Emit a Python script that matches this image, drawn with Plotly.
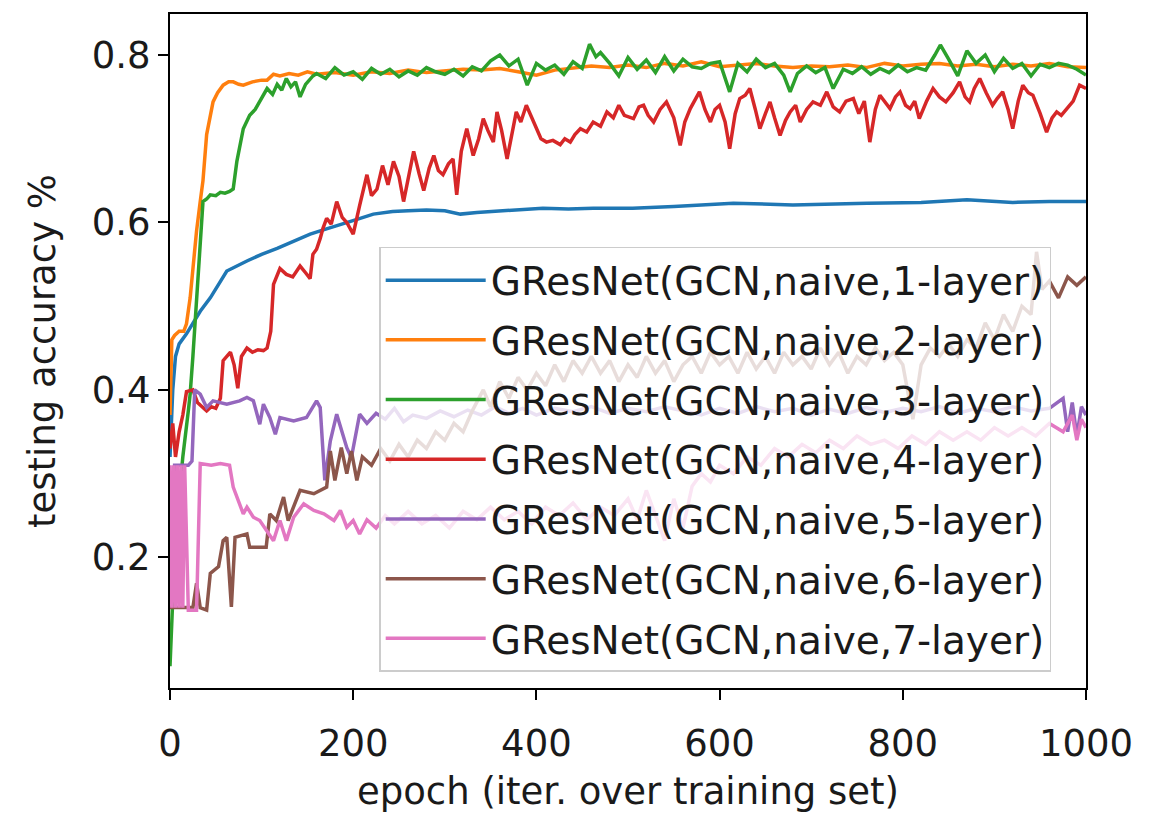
import plotly.graph_objects as go

# ---------------- data ----------------
SERIES_NAMES = [
    "GResNet(GCN,naive,1-layer)",
    "GResNet(GCN,naive,2-layer)",
    "GResNet(GCN,naive,3-layer)",
    "GResNet(GCN,naive,4-layer)",
    "GResNet(GCN,naive,5-layer)",
    "GResNet(GCN,naive,6-layer)",
    "GResNet(GCN,naive,7-layer)",
]
X_TICKS = [0, 200, 400, 600, 800, 1000]
Y_TICKS = [0.2, 0.4, 0.6, 0.8]

# 1-layer (blue)
L1_EPOCH = [0, 3, 6, 10, 18, 25, 33, 44, 62, 84, 100, 117, 135, 153, 170, 189, 205, 222, 243, 260,
            280, 300, 317, 335, 353, 380, 407, 435, 462, 505, 550, 615, 680, 761, 820, 870, 920, 960, 1000]
L1_ACC = [0.32, 0.40, 0.44, 0.455, 0.467, 0.48, 0.494, 0.51, 0.542, 0.554, 0.562, 0.569, 0.578, 0.586,
          0.592, 0.598, 0.604, 0.61, 0.613, 0.614, 0.615, 0.614, 0.61, 0.612, 0.613, 0.615, 0.617, 0.616,
          0.617, 0.617, 0.619, 0.623, 0.621, 0.623, 0.624, 0.627, 0.624, 0.625, 0.625]

# 2-layer (orange)
L2_EPOCH = [0, 2, 5, 10, 15, 18, 22, 25, 29, 33, 36, 40, 44, 47, 52, 58, 64, 69, 75, 80, 90, 100, 106,
            113, 120, 130, 140, 150, 160, 180, 200, 220, 240, 260, 280, 300, 320, 340, 360, 380, 400,
            420, 440, 460, 480, 500, 520, 540, 560, 580, 600, 620, 640, 660, 680, 700, 720, 740, 760,
            780, 800, 820, 840, 860, 880, 900, 920, 940, 960, 980, 1000]
L2_ACC = [0.37, 0.46, 0.465, 0.47, 0.47, 0.479, 0.51, 0.545, 0.59, 0.625, 0.65, 0.705, 0.73, 0.744,
          0.755, 0.764, 0.768, 0.768, 0.765, 0.764, 0.768, 0.77, 0.77, 0.777, 0.775, 0.778, 0.776, 0.78,
          0.777, 0.779, 0.776, 0.78, 0.778, 0.782, 0.779, 0.781, 0.783, 0.782, 0.784, 0.78, 0.776,
          0.782, 0.785, 0.787, 0.785, 0.788, 0.785, 0.79, 0.787, 0.792, 0.786, 0.788, 0.79, 0.787,
          0.785, 0.787, 0.786, 0.788, 0.785, 0.79, 0.787, 0.789, 0.79, 0.787, 0.789, 0.786, 0.789,
          0.787, 0.79, 0.786, 0.785]

# 3-layer (green)
L3_EPOCH = [0, 3, 8, 14, 20, 22, 25, 29, 33, 36, 40, 44, 50, 55, 60, 65, 69, 73, 80, 87, 93, 98, 106,
            112, 117, 122, 127, 132, 137, 142, 148, 156, 160, 170, 180, 190, 200, 210, 220, 230, 240,
            250, 260, 270, 280, 290, 300, 310, 320, 330, 340, 350, 360, 370, 380, 390, 400, 410, 420,
            430, 440, 450, 458, 465, 470, 480, 490, 500, 510, 520, 530, 540, 550, 560, 570, 580, 590,
            600, 611, 620, 630, 640, 650, 660, 670, 677, 685, 695, 705, 715, 724, 735, 745, 755, 765,
            775, 785, 795, 805, 815, 825, 835, 841, 850, 860, 870, 880, 890, 900, 910, 920, 930, 940,
            950, 960, 970, 980, 990, 1000]
L3_ACC = [0.07, 0.15, 0.25, 0.32, 0.375, 0.395, 0.44, 0.506, 0.586, 0.625, 0.628, 0.633, 0.632, 0.636,
          0.635, 0.637, 0.64, 0.673, 0.712, 0.728, 0.735, 0.744, 0.76, 0.753, 0.765, 0.758, 0.772,
          0.762, 0.768, 0.75, 0.765, 0.775, 0.778, 0.772, 0.785, 0.776, 0.78, 0.771, 0.784, 0.777,
          0.783, 0.774, 0.781, 0.776, 0.785, 0.78, 0.777, 0.783, 0.775, 0.786, 0.781, 0.793, 0.8,
          0.787, 0.795, 0.764, 0.79, 0.782, 0.788, 0.777, 0.792, 0.784, 0.813, 0.798, 0.803, 0.79,
          0.775, 0.797, 0.783, 0.794, 0.779, 0.798, 0.781, 0.795, 0.786, 0.784, 0.79, 0.792, 0.756,
          0.79, 0.78, 0.795, 0.785, 0.79, 0.776, 0.756, 0.778, 0.787, 0.779, 0.785, 0.76, 0.783,
          0.778, 0.786, 0.777, 0.784, 0.779, 0.788, 0.78, 0.785, 0.782, 0.8, 0.812, 0.795, 0.775,
          0.805, 0.79, 0.8, 0.78, 0.796, 0.784, 0.79, 0.775, 0.789, 0.785, 0.79, 0.788, 0.783, 0.776]

# 4-layer (red)
L4_EPOCH = [0, 3, 6, 10, 14, 18, 25, 30, 35, 40, 45, 50, 55, 58, 62, 66, 70, 74, 78, 84, 90, 96, 102,
            106, 110, 113, 120, 127, 134, 142, 148, 153, 156, 160, 164, 167, 171, 176, 182, 188, 193,
            200, 207, 211, 215, 220, 226, 232, 238, 244, 250, 255, 261, 266, 272, 277, 283, 288, 293,
            298, 304, 309, 313, 318, 324, 328, 331, 337, 342, 347, 353, 357, 362, 368, 373, 378, 383,
            389, 395, 400, 405, 411, 418, 426, 431, 437, 442, 448, 455, 462, 470, 477, 484, 490, 496,
            506, 512, 517, 522, 528, 535, 542, 550, 557, 562, 568, 573, 578, 584, 590, 595, 600, 606,
            611, 617, 622, 628, 633, 639, 644, 650, 655, 660, 666, 672, 677, 683, 688, 695, 702, 710,
            717, 724, 731, 738, 746, 752, 758, 764, 770, 775, 780, 786, 792, 797, 803, 808, 813, 818,
            826, 833, 840, 847, 855, 862, 868, 873, 878, 884, 891, 898, 903, 909, 915, 920, 926, 931,
            937, 942, 950, 957, 963, 968, 973, 979, 986, 993, 1000]
L4_ACC = [0.33, 0.36, 0.32, 0.35, 0.37, 0.398, 0.40, 0.385, 0.38, 0.375, 0.38, 0.378, 0.39, 0.435,
          0.44, 0.445, 0.43, 0.402, 0.44, 0.45, 0.445, 0.448, 0.447, 0.45, 0.47, 0.526, 0.545, 0.538,
          0.535, 0.548, 0.54, 0.533, 0.562, 0.568, 0.581, 0.593, 0.605, 0.598, 0.625, 0.606, 0.6,
          0.586, 0.62, 0.64, 0.657, 0.632, 0.64, 0.668, 0.645, 0.673, 0.655, 0.625, 0.66, 0.685,
          0.658, 0.638, 0.665, 0.68, 0.662, 0.657, 0.67, 0.676, 0.633, 0.685, 0.712, 0.695, 0.68,
          0.7, 0.724, 0.71, 0.696, 0.732, 0.71, 0.676, 0.705, 0.732, 0.72, 0.74, 0.725, 0.712, 0.70,
          0.696, 0.698, 0.693, 0.70, 0.696, 0.705, 0.712, 0.708, 0.72, 0.715, 0.732, 0.725, 0.74,
          0.728, 0.724, 0.738, 0.740, 0.728, 0.720, 0.735, 0.744, 0.725, 0.692, 0.72, 0.736, 0.745,
          0.756, 0.735, 0.720, 0.735, 0.740, 0.72, 0.688, 0.73, 0.748, 0.752, 0.760, 0.735, 0.712,
          0.73, 0.744, 0.725, 0.704, 0.722, 0.732, 0.74, 0.720, 0.735, 0.744, 0.74, 0.756, 0.738,
          0.732, 0.745, 0.748, 0.73, 0.745, 0.696, 0.735, 0.752, 0.745, 0.736, 0.75, 0.756, 0.74,
          0.736, 0.745, 0.724, 0.745, 0.760, 0.75, 0.744, 0.755, 0.768, 0.75, 0.744, 0.76, 0.772,
          0.755, 0.740, 0.748, 0.756, 0.735, 0.712, 0.745, 0.764, 0.755, 0.752, 0.73, 0.708, 0.725,
          0.732, 0.728, 0.736, 0.745, 0.764, 0.76]

# 5-layer (purple)
L5_EPOCH = [0, 5, 10, 20, 24, 27, 33, 40, 47, 62, 76, 84, 91, 98, 102, 109, 115, 120, 135, 149, 160,
            164, 169, 175, 182, 193, 198, 207, 215, 225, 235, 245, 255, 265, 280, 295, 310, 325, 340,
            355, 370, 385, 400, 420, 440, 460, 480, 500, 520, 540, 560, 580, 600, 620, 640, 660, 680,
            700, 720, 740, 760, 780, 800, 820, 840, 860, 880, 900, 920, 940, 960, 975, 980, 985, 990,
            995, 1000]
L5_ACC = [0.15, 0.31, 0.31, 0.31, 0.315, 0.40, 0.395, 0.379, 0.387, 0.383, 0.387, 0.391, 0.387,
          0.359, 0.383, 0.367, 0.347, 0.367, 0.363, 0.367, 0.387, 0.379, 0.292, 0.339, 0.371, 0.331,
          0.319, 0.371, 0.36, 0.372, 0.365, 0.378, 0.362, 0.37, 0.366, 0.375, 0.368, 0.376, 0.37,
          0.38, 0.372, 0.378, 0.37, 0.378, 0.374, 0.38, 0.372, 0.378, 0.374, 0.38, 0.375, 0.37,
          0.378, 0.372, 0.38, 0.374, 0.378, 0.37, 0.377, 0.372, 0.379, 0.373, 0.378, 0.374, 0.38,
          0.372, 0.378, 0.374, 0.38, 0.375, 0.378, 0.39, 0.35, 0.385, 0.345, 0.38, 0.37]

# 6-layer (brown)
L6_EPOCH = [0, 10, 20, 25, 29, 33, 40, 44, 53, 58, 62, 67, 71, 84, 87, 105, 109, 116, 124, 129, 142,
            157, 171, 175, 180, 187, 193, 198, 204, 210, 220, 230, 240, 250, 260, 270, 280, 290, 300,
            310, 320, 330, 342, 350, 360, 370, 380, 390, 400, 410, 420, 430, 440, 450, 460, 470, 480,
            490, 500, 510, 520, 530, 540, 550, 560, 570, 580, 590, 600, 610, 620, 630, 640, 650, 660,
            670, 680, 690, 700, 710, 720, 730, 740, 750, 760, 770, 780, 790, 800, 811, 820, 830, 840,
            850, 860, 870, 880, 890, 900, 910, 920, 930, 940, 946, 952, 960, 970, 980, 990, 1000]
L6_ACC = [0.14, 0.14, 0.14, 0.14, 0.169, 0.14, 0.137, 0.181, 0.189, 0.22, 0.224, 0.141, 0.224, 0.228,
          0.212, 0.212, 0.252, 0.244, 0.272, 0.244, 0.28, 0.276, 0.284, 0.327, 0.292, 0.331, 0.30,
          0.327, 0.292, 0.32, 0.31, 0.33, 0.315, 0.335, 0.32, 0.34, 0.33, 0.35, 0.34, 0.36, 0.35,
          0.375, 0.40, 0.38, 0.41, 0.39, 0.415, 0.40, 0.42, 0.405, 0.43, 0.41, 0.435, 0.42, 0.44,
          0.42, 0.435, 0.41, 0.43, 0.415, 0.44, 0.42, 0.435, 0.41, 0.43, 0.44, 0.42, 0.445, 0.43,
          0.44, 0.42, 0.445, 0.425, 0.44, 0.42, 0.445, 0.43, 0.44, 0.425, 0.45, 0.43, 0.445, 0.42,
          0.44, 0.43, 0.45, 0.435, 0.445, 0.43, 0.365, 0.43, 0.45, 0.44, 0.455, 0.44, 0.46, 0.45,
          0.48, 0.46, 0.49, 0.47, 0.50, 0.49, 0.565, 0.52, 0.53, 0.51, 0.535, 0.525, 0.535]

# 7-layer (pink)
L7_EPOCH = [0, 2, 4, 6, 8, 10, 12, 14, 16, 20, 25, 29, 33, 45, 55, 65, 69, 76, 80, 84, 91, 98, 106,
            113, 120, 127, 135, 146, 157, 168, 179, 186, 193, 200, 207, 215, 225, 235, 245, 260, 275,
            290, 305, 320, 335, 350, 365, 380, 395, 410, 425, 440, 455, 470, 485, 500, 510, 520, 530,
            540, 550, 560, 570, 580, 590, 600, 615, 630, 645, 660, 675, 690, 705, 720, 735, 750, 765,
            780, 795, 810, 825, 840, 855, 870, 885, 900, 915, 930, 945, 960, 975, 985, 990, 995, 1000]
L7_ACC = [0.31, 0.14, 0.31, 0.14, 0.31, 0.14, 0.31, 0.14, 0.31, 0.137, 0.137, 0.137, 0.312, 0.31,
          0.312, 0.31, 0.284, 0.264, 0.252, 0.26, 0.248, 0.244, 0.232, 0.22, 0.244, 0.22, 0.248,
          0.264, 0.256, 0.252, 0.244, 0.256, 0.236, 0.244, 0.228, 0.245, 0.235, 0.25, 0.24, 0.255,
          0.24, 0.25, 0.235, 0.255, 0.245, 0.26, 0.245, 0.255, 0.24, 0.26, 0.25, 0.265, 0.245, 0.26,
          0.25, 0.27, 0.245, 0.28, 0.25, 0.22, 0.27, 0.235, 0.285, 0.3, 0.29, 0.31, 0.3, 0.32, 0.31,
          0.33, 0.32, 0.335, 0.325, 0.34, 0.33, 0.345, 0.335, 0.34, 0.33, 0.345, 0.335, 0.35, 0.34,
          0.35, 0.34, 0.355, 0.345, 0.355, 0.345, 0.36, 0.35, 0.37, 0.34, 0.365, 0.355]

EPOCHS = [L1_EPOCH, L2_EPOCH, L3_EPOCH, L4_EPOCH, L5_EPOCH, L6_EPOCH, L7_EPOCH]
ACCS = [L1_ACC, L2_ACC, L3_ACC, L4_ACC, L5_ACC, L6_ACC, L7_ACC]
COLORS = ["#1f77b4", "#ff7f0e", "#2ca02c", "#d62728", "#9467bd", "#8c564b", "#e377c2"]

FONT = "DejaVu Sans"
TXT = "#1a1a1a"

fig = go.Figure()
for i, (name, ex, ac, col) in enumerate(zip(SERIES_NAMES, EPOCHS, ACCS, COLORS)):
    fig.add_trace(go.Scatter(x=ex, y=ac, mode="lines", name=name, legendgroup=f"g{i}",
                             line=dict(color=col, width=3.5)))

axis_common = dict(showline=True, mirror=True, linecolor="black", linewidth=2,
                   ticks="outside", ticklen=10, tickwidth=1.8, tickcolor="black",
                   showgrid=False, zeroline=False,
                   tickfont=dict(family=FONT, size=37, color=TXT))

# page body adds an 8px offset, so the figure is 8px smaller and margins shifted by 8
fig.update_layout(
    width=1150, height=809,
    margin=dict(l=162, r=72, t=4, b=129),
    paper_bgcolor="white", plot_bgcolor="white",
    font=dict(family=FONT, size=37, color=TXT),
    xaxis=dict(range=[0, 1000], tickvals=X_TICKS, ticklabelstandoff=12,
               title=dict(text="epoch (iter. over training set)", standoff=14,
                          font=dict(family=FONT, size=37, color=TXT)),
               **axis_common),
    yaxis=dict(range=[0.044, 0.849], tickvals=Y_TICKS, tickformat=".1f",
               title=dict(text="testing accuracy %", standoff=25,
                          font=dict(family=FONT, size=37, color=TXT)),
               **axis_common),
    legend=dict(x=0.962, y=0.024, xanchor="right", yanchor="bottom",
                bgcolor="rgba(255,255,255,0.8)", bordercolor="#cccccc", borderwidth=1.5,
                font=dict(family=FONT, size=39, color=TXT),
                itemwidth=100, tracegroupgap=6, traceorder="grouped"),
    showlegend=True,
)

fig.write_html("out.html")
